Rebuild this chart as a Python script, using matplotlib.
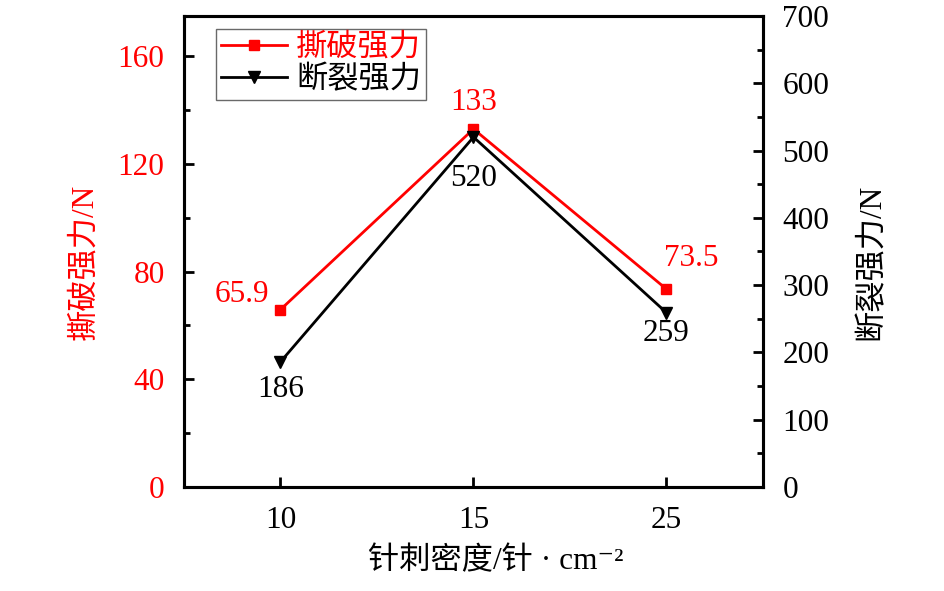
import matplotlib
matplotlib.use("Agg")
import matplotlib.pyplot as plt
from matplotlib.ticker import MultipleLocator

plt.rcParams['font.family'] = ['Liberation Serif', 'Noto Sans CJK SC', 'DejaVu Sans']

categories = ['10', '15', '25']
tear_strength = [65.9, 133, 73.5]
break_strength = [186, 520, 259]
tear_labels = ['65.9', '133', '73.5']
break_labels = ['186', '520', '259']

RED = '#ff0000'
FS = 22.5

fig = plt.figure(figsize=(9.45, 5.91), dpi=100)
ax = fig.add_axes([0.1947, 0.176, 0.6127, 0.797])
ax2 = ax.twinx()

x = list(range(len(categories)))
l1, = ax.plot(x, tear_strength, color=RED, lw=2.0, marker='s', ms=7, label='撕破强力', zorder=3)
l2, = ax2.plot(x, break_strength, color='black', lw=2.0, marker='v', ms=8, label='断裂强力', zorder=3)

ax.set_xlim(-0.5, 2.5)
ax.set_ylim(0, 175)
ax2.set_ylim(0, 700)
ax.set_xticks(x)
ax.set_xticklabels(categories)
ax.set_yticks([0, 40, 80, 120, 160])
ax.yaxis.set_minor_locator(MultipleLocator(20))
ax2.set_yticks(range(0, 701, 100))
ax2.yaxis.set_minor_locator(MultipleLocator(50))

for a in (ax, ax2):
    for s in a.spines.values():
        s.set_linewidth(2.2)

ax.tick_params(axis='y', which='major', direction='in', length=7, width=2, labelsize=FS, labelcolor=RED, pad=14)
ax.tick_params(axis='y', which='minor', direction='in', length=4, width=2)
ax.tick_params(axis='x', which='major', direction='in', length=7, width=2, labelsize=FS, pad=14)
ax2.tick_params(axis='y', which='major', direction='in', length=7, width=2, labelsize=FS, pad=14)
ax2.tick_params(axis='y', which='minor', direction='in', length=4, width=2)

fig.text(85 / 945, 1 - 262 / 591, '撕破强力/N', fontsize=FS, color=RED, rotation=90,
         ha='center', va='center')
fig.text(872 / 945, 1 - 262 / 591, '断裂强力/N', fontsize=FS, color='black', rotation=90,
         ha='center', va='center')
fig.text(496 / 945, 1 - 562 / 591, '针刺密度/针 · cm⁻²', fontsize=FS, ha='center', va='center')

# annotations (offsets in points)
offs_t = [(-28, 11), (0, 19), (18, 22)]
for xi, yi, t, o in zip(x, tear_strength, tear_labels, offs_t):
    ax.annotate(t, (xi, yi), xytext=o, textcoords='offset points', ha='center', va='center',
                color=RED, fontsize=FS)
offs_b = [(0, -20), (0, -30), (0, -15)]
for xi, yi, t, o in zip(x, break_strength, break_labels, offs_b):
    ax2.annotate(t, (xi, yi), xytext=o, textcoords='offset points', ha='center', va='center',
                 color='black', fontsize=FS)

leg = ax.legend(handles=[l1, l2], loc='upper left', bbox_to_anchor=(0.045, 0.985),
                fontsize=FS, frameon=True, fancybox=False, edgecolor='#444444',
                borderpad=0.15, labelspacing=0.1, handlelength=2.1, handletextpad=0.3,
                borderaxespad=0.2)
leg.get_frame().set_linewidth(1.0)
for txt, c in zip(leg.get_texts(), [RED, 'black']):
    txt.set_color(c)

fig.savefig('out.png', dpi=100)
